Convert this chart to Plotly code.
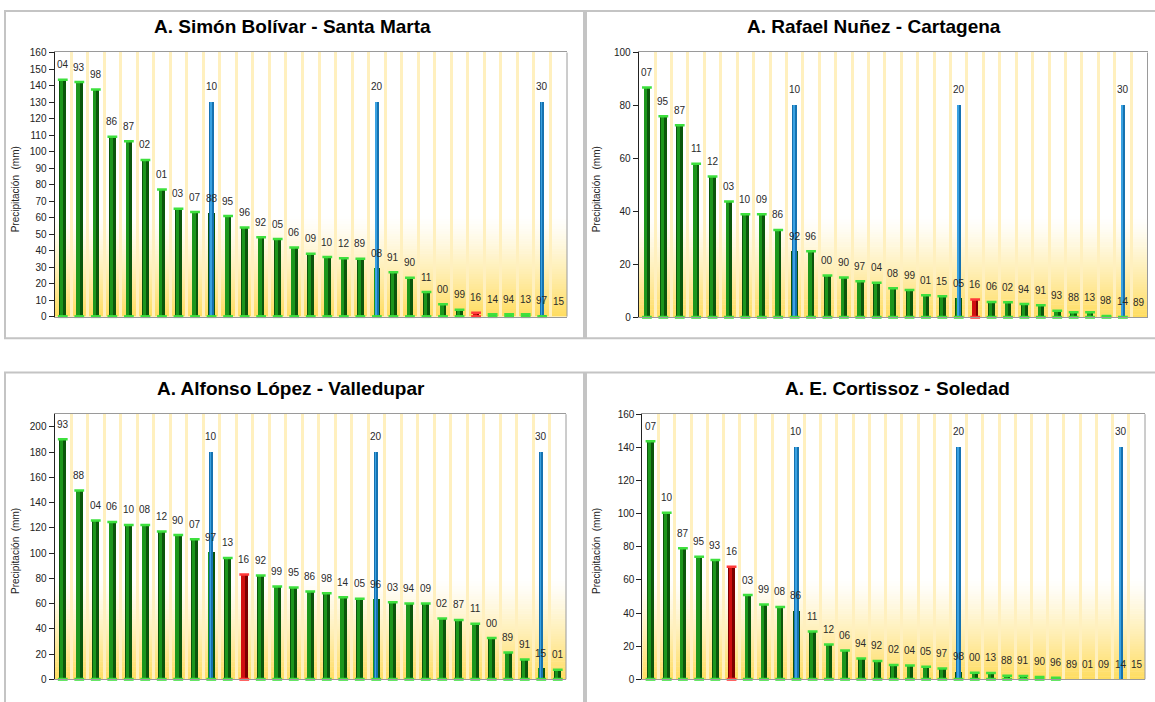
import plotly.graph_objects as go

W, H = 1155, 702

# ---------------- data ----------------
p1_title = "A. Simón Bolívar - Santa Marta"
p1_years = ["04","93","98","86","87","02","01","03","07","88","95","96","92","05","06","09",
            "10","12","89","08","91","90","11","00","99","16","14","94","13","97","15"]
p1_values = [143.5,142.1,137.6,109.0,106.2,94.9,77.0,65.3,63.3,62.7,60.9,54.0,48.0,47.0,41.9,38.1,
             36.1,35.3,35.1,29.2,26.8,23.6,14.9,7.5,4.2,2.4,1.4,1.4,1.4,0.8,0.0]
p1_rank_height = 130
p1_ymax, p1_dtick = 160, 10

p2_title = "A. Rafael Nuñez - Cartagena"
p2_years = ["07","95","87","11","12","03","10","09","86","92","96","00","90","97","04","08",
            "99","01","15","05","16","06","02","94","91","93","88","13","98","14","89"]
p2_values = [86.8,75.9,72.5,58.0,53.2,43.7,38.9,38.9,33.0,25.0,24.9,15.8,15.0,13.6,13.0,11.0,
             10.3,8.3,7.9,7.2,6.7,5.8,5.7,5.0,4.5,2.5,1.9,1.9,0.5,0.3,0.0]
p2_rank_height = 80
p2_ymax, p2_dtick = 100, 20

p3_title = "A. Alfonso López - Valledupar"
p3_years = ["93","88","04","06","10","08","12","90","07","97","13","16","92","99","95","86",
            "98","14","05","96","03","94","09","02","87","11","00","89","91","15","01"]
p3_values = [190.1,149.6,125.7,124.7,122.3,122.3,117.1,114.3,110.9,100.8,96.1,83.1,82.3,73.5,72.7,69.6,
             68.1,64.9,63.9,63.6,61.0,60.0,60.0,48.1,47.0,43.9,32.7,21.3,15.6,8.8,7.5]
p3_rank_height = 180
p3_ymax, p3_dtick = 210, 20

p4_title = "A. E. Cortissoz - Soledad"
p4_years = ["07","10","87","95","93","16","03","99","08","86","11","12","06","94","92","02",
            "04","05","97","98","00","13","88","91","90","96","89","01","09","14","15"]
p4_values = [143.6,100.5,79.1,74.0,72.0,68.0,50.8,45.1,43.7,41.3,28.9,21.0,17.4,12.5,11.1,8.7,
             8.3,7.5,6.5,4.5,4.0,3.8,2.2,2.0,1.4,1.0,0.0,0.0,0.0,0.0,0.0]
p4_rank_height = 140
p4_ymax, p4_dtick = 160, 20

highlight_year = "16"
rank_marks = [10, 20, 30]
y_title = "Precipitación  (mm)"

# ---------------- layout geometry (pixels) ----------------
panels = [
    dict(title=p1_title, years=p1_years, values=p1_values, rank_h=p1_rank_height,
         ymax=p1_ymax, dtick=p1_dtick, plot=(54.5, 567, 47.3, 316), frame=(5, 584, 5, 338),
         tpos=(292, 21), ytpos=(15.5, 187)),
    dict(title=p2_title, years=p2_years, values=p2_values, rank_h=p2_rank_height,
         ymax=p2_ymax, dtick=p2_dtick, plot=(638.7, 1147.5, 47.3, 316.7), frame=(586, 1175, 5, 338),
         tpos=(874, 21), ytpos=(596.5, 187)),
    dict(title=p3_title, years=p3_years, values=p3_values, rank_h=p3_rank_height,
         ymax=p3_ymax, dtick=p3_dtick, plot=(54.5, 566, 415.3, 685), frame=(5, 584, 373, 720),
         tpos=(291, 389), ytpos=(15.5, 555)),
    dict(title=p4_title, years=p4_years, values=p4_values, rank_h=p4_rank_height,
         ymax=p4_ymax, dtick=p4_dtick, plot=(642.4, 1145, 415.3, 685), frame=(586, 1175, 373, 720),
         tpos=(897, 389), ytpos=(596.5, 555)),
]

FONT = "Arial, 'Liberation Sans', sans-serif"


def px(x):
    return x / W


def py(y):
    return 1 - y / H


def mix(c1, c2, t):
    a = [int(c1[i:i + 2], 16) for i in (1, 3, 5)]
    b = [int(c2[i:i + 2], 16) for i in (1, 3, 5)]
    return "#%02x%02x%02x" % tuple(round(a[k] + (b[k] - a[k]) * t) for k in range(3))


fig = go.Figure()
shapes = []
annotations = []
layout_axes = {}

for i, p in enumerate(panels):
    n = i + 1
    xa = "x" if n == 1 else f"x{n}"
    ya = "y" if n == 1 else f"y{n}"
    xkey = "xaxis" if n == 1 else f"xaxis{n}"
    ykey = "yaxis" if n == 1 else f"yaxis{n}"
    years, values = p["years"], p["values"]
    idx = list(range(len(years)))
    rank_idx = [r - 1 for r in rank_marks]

    base_cols = ["#7c0000" if yv == highlight_year else "#0b560b" for yv in years]
    mid_cols = ["#d01010" if yv == highlight_year else "#1c961c" for yv in years]
    cap_cols = ["#ff3a3a" if yv == highlight_year else "#3ee03e" for yv in years]

    fig.add_trace(go.Bar(x=idx, y=values, width=0.4, offset=-0.2,
                         marker=dict(color=base_cols, line=dict(width=0)),
                         xaxis=xa, yaxis=ya, showlegend=False, hoverinfo="skip"))
    fig.add_trace(go.Bar(x=idx, y=values, width=0.2, offset=-0.17,
                         marker=dict(color=mid_cols, line=dict(width=0)),
                         xaxis=xa, yaxis=ya, showlegend=False, hoverinfo="skip"))
    fig.add_trace(go.Bar(x=rank_idx, y=[p["rank_h"]] * len(rank_idx), width=0.26, offset=-0.13,
                         marker=dict(color="#1672b0", line=dict(width=0)),
                         xaxis=xa, yaxis=ya, showlegend=False, hoverinfo="skip"))
    fig.add_trace(go.Bar(x=rank_idx, y=[p["rank_h"]] * len(rank_idx), width=0.11, offset=-0.1,
                         marker=dict(color="#3aa2e2", line=dict(width=0)),
                         xaxis=xa, yaxis=ya, showlegend=False, hoverinfo="skip"))

    cx = [k for k in idx if values[k] > 0 and k not in rank_idx]
    fig.add_trace(go.Scatter(x=cx, y=[values[k] for k in cx], mode="markers",
                             marker=dict(symbol="line-ew", size=7,
                                         line=dict(width=2.5, color=[cap_cols[k] for k in cx])),
                             xaxis=xa, yaxis=ya, showlegend=False, hoverinfo="skip"))
    cb = [k for k in idx if values[k] > 0]
    fig.add_trace(go.Scatter(x=cb, y=[0] * len(cb), mode="markers",
                             marker=dict(symbol="line-ew", size=7,
                                         line=dict(width=3, color=[cap_cols[k] for k in cb])),
                             xaxis=xa, yaxis=ya, showlegend=False, hoverinfo="skip", cliponaxis=False))

    x0, x1, y0, y1 = p["plot"]
    layout_axes[xkey] = dict(domain=[px(x0), px(x1)], range=[-0.5, len(years) - 0.5], anchor=ya,
                             showticklabels=False, ticks="", showgrid=True, gridcolor="#fff0bf",
                             gridwidth=3, tick0=0.5, dtick=1, zeroline=False, showline=True,
                             linecolor="#9a9a9a", linewidth=1, mirror=True, fixedrange=True)
    layout_axes[ykey] = dict(domain=[py(y1), py(y0)], range=[0, p["ymax"]], anchor=xa,
                             dtick=p["dtick"], tick0=0, ticks="outside", ticklen=5, tickcolor="#222",
                             showline=True, linecolor="#222", linewidth=1, showgrid=False,
                             zeroline=False, fixedrange=True,
                             tickfont=dict(size=10, color="#222", family=FONT))

    steps = 40
    top_frac = 0.38
    for s in range(steps):
        f0 = top_frac * s / steps
        f1 = top_frac * (s + 1) / steps
        t = 1 - (f0 + f1) / 2 / top_frac
        shapes.append(dict(type="rect", xref=f"{xa} domain", yref=f"{ya} domain",
                           x0=0, x1=1, y0=f0, y1=f1 + 0.002, layer="below",
                           line=dict(width=0), fillcolor=mix("#ffffff", "#ffdc60", t ** 1.25)))
    shapes.append(dict(type="line", xref=f"{xa} domain", yref=f"{ya} domain",
                       x0=1, x1=1, y0=0, y1=1, line=dict(color="#9a9a9a", width=1)))

    fx0, fx1, fy0, fy1 = p["frame"]
    shapes.append(dict(type="rect", xref="paper", yref="paper", x0=px(fx0), x1=px(fx1),
                       y0=py(fy1), y1=py(fy0), line=dict(color="#c4c4c4", width=2), layer="below"))

    annotations.append(dict(text=f"<b>{p['title']}</b>", xref="paper", yref="paper",
                            x=px(p["tpos"][0]), y=py(p["tpos"][1]), showarrow=False,
                            xanchor="center", yanchor="middle",
                            font=dict(size=19, color="#000", family=FONT)))
    annotations.append(dict(text=y_title, xref="paper", yref="paper",
                            x=px(p["ytpos"][0]), y=py(p["ytpos"][1]), showarrow=False,
                            textangle=-90, xanchor="center", yanchor="middle",
                            font=dict(size=10, color="#222", family=FONT)))
    for k in idx:
        annotations.append(dict(text=years[k], xref=xa, yref=ya, x=k, y=values[k],
                                showarrow=False, yshift=15, xanchor="center", yanchor="middle",
                                font=dict(size=10, color="#2a2a2a", family=FONT)))
    for r in rank_marks:
        annotations.append(dict(text=str(r), xref=xa, yref=ya, x=r - 1, y=p["rank_h"],
                                showarrow=False, yshift=16, xanchor="center", yanchor="middle",
                                font=dict(size=10, color="#2a2a2a", family=FONT)))

fig.update_layout(width=W, height=H, margin=dict(l=0, r=0, t=0, b=0),
                  paper_bgcolor="white", plot_bgcolor="white", barmode="overlay",
                  bargap=0, shapes=shapes, annotations=annotations, showlegend=False,
                  font=dict(family=FONT), **layout_axes)

fig.write_html("out.html", config={"displayModeBar": False, "staticPlot": True},
               post_script="document.body.style.margin='0px';document.body.style.padding='0px';")
